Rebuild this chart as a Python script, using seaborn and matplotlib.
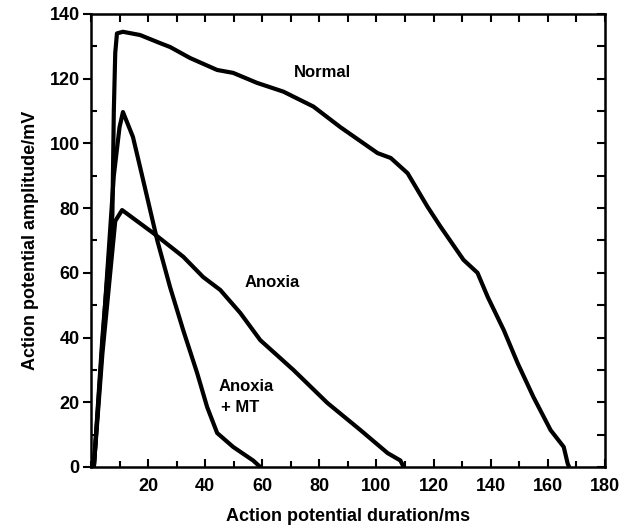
import numpy as np
import pandas as pd
import seaborn as sns
from matplotlib import pyplot as plt
from matplotlib.ticker import MultipleLocator

# curves (duration ms, amplitude mV)
normal_x = [1, 4, 7.5, 8.0, 8.5, 9.1, 11.2, 17.2, 24.2, 27.7, 34.7, 44.2, 49.8, 58.2, 67.4,
            77.9, 87.4, 100.4, 105, 110.9, 117.9, 122.5, 130.5, 135.4, 139, 144.6, 149.5,
            155, 161, 165.6, 167, 167.5]
normal_y = [0, 40, 78, 110, 128, 134, 134.5, 133.5, 131, 129.8, 126.4, 122.7, 121.8, 118.7, 116,
            111.4, 105, 97, 95.5, 90.8, 80.4, 74.2, 64, 60, 52.5, 42.3, 32,
            21.6, 11.4, 6.2, 1, 0]

anoxia_x = [1, 4, 8.5, 10.9, 21.8, 32.3, 39.3, 45.3, 52.3, 59.3, 70.9, 82.8, 94.4, 103.9, 108.4, 109.5]
anoxia_y = [0, 35, 76, 79.4, 72.3, 65, 58.7, 54.7, 47.6, 39.2, 30, 19.8, 11.4, 4.3, 2, 0]

mt_x = [1, 4, 8, 10, 11.2, 14.7, 17.2, 23.2, 27.7, 32.3, 37.2, 40.7, 44.2, 49.8, 56.8, 59.3]
mt_y = [0, 38, 90, 105, 109.7, 102, 92.7, 70.1, 55.6, 42.3, 29, 18.5, 10.5, 6.2, 2, 0]

sns.set_style("ticks")
plt.rcParams['font.family'] = ['Liberation Sans', 'DejaVu Sans']
plt.rcParams['font.weight'] = 'bold'
for k in ['text.color', 'axes.labelcolor', 'xtick.color', 'ytick.color', 'axes.edgecolor']:
    plt.rcParams[k] = 'black'

fig = plt.figure(figsize=(6.34, 5.32), dpi=100)
ax = fig.add_axes([0.1435, 0.1222, 0.8105, 0.8515])

for xs, ys in [(normal_x, normal_y), (anoxia_x, anoxia_y), (mt_x, mt_y)]:
    d = pd.DataFrame({'t': xs, 'v': ys})
    sns.lineplot(data=d, x='t', y='v', ax=ax, color='black', linewidth=3,
                 sort=False, estimator=None)

ax.set_xlim(0, 180)
ax.set_ylim(0, 140)

ax.xaxis.set_major_locator(MultipleLocator(20))
ax.xaxis.set_minor_locator(MultipleLocator(10))
ax.yaxis.set_major_locator(MultipleLocator(20))
ax.yaxis.set_minor_locator(MultipleLocator(10))
ax.set_xticks(np.arange(20, 181, 20))

for s in ax.spines.values():
    s.set_linewidth(1.8)
    s.set_color('black')

ax.tick_params(axis='x', which='major', direction='in', length=6, width=1.5,
               labelsize=13, pad=8)
ax.tick_params(axis='x', which='minor', direction='in', length=4, width=1.5)
ax.tick_params(axis='y', which='major', direction='out', length=6, width=1.5,
               labelsize=13, pad=2)
ax.tick_params(axis='y', which='minor', direction='in', length=4, width=1.5)

top = ax.secondary_xaxis('top')
top.xaxis.set_major_locator(MultipleLocator(10))
top.tick_params(direction='in', length=6, width=1.5, labeltop=False)
right = ax.secondary_yaxis('right')
right.yaxis.set_major_locator(MultipleLocator(10))
right.tick_params(direction='in', length=6, width=1.5, labelright=False)

ax.set_xlabel('Action potential duration/ms', fontsize=13, fontweight='bold', labelpad=9)
ax.set_ylabel('Action potential amplitude/mV', fontsize=13, fontweight='bold', labelpad=8)

ax.text(81, 122, 'Normal', fontsize=12, fontweight='bold', ha='center', va='center')
ax.text(63.5, 57, 'Anoxia', fontsize=12, fontweight='bold', ha='center', va='center')
ax.text(54.4, 25, 'Anoxia', fontsize=12, fontweight='bold', ha='center', va='center')
ax.text(52.3, 18.5, '+ MT', fontsize=12, fontweight='bold', ha='center', va='center')

fig.savefig('out.png', dpi=100)
